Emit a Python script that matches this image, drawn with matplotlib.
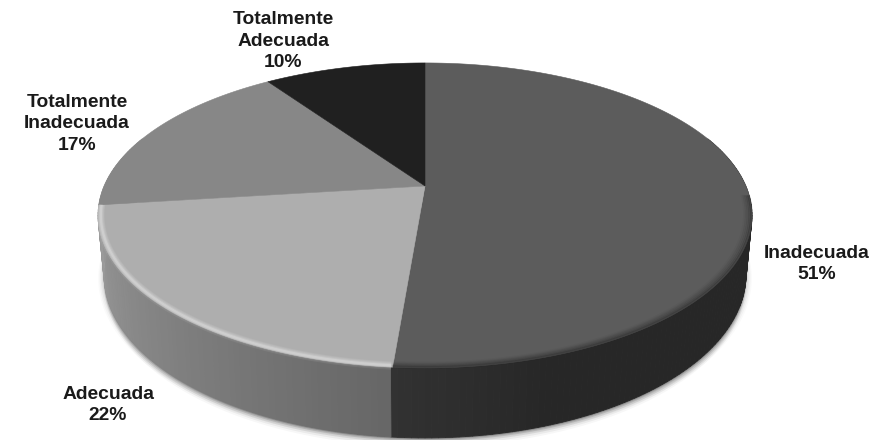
import numpy as np
import matplotlib
matplotlib.use("Agg")
import matplotlib.pyplot as plt
from matplotlib.collections import PolyCollection

plt.rcParams['font.family'] = ['Liberation Sans', 'DejaVu Sans']

# clockwise from 12 o'clock
categories = ['Inadecuada', 'Adecuada', 'Totalmente\nInadecuada', 'Totalmente\nAdecuada']
values = [51.3, 21.7, 17.4, 9.6]
shown = ['51%', '22%', '17%', '10%']
top_grey = ['#5c5c5c', '#aeaeae', '#878787', '#202020']

label_xy = [(817, 264), (108, 405), (77, 124), (283, 41)]

cx, cy = 425, 186
R, S, k, D = 320.8, 146.8, 0.193, 56.5


def project(theta, r=1.0):
    # circle seen in perspective, near side is bigger
    u = r * np.sin(theta)
    v = r * np.cos(theta)
    w = 1 + k * v
    return cx + R * u / w, cy - S * v / w


def project_low(theta):
    u = np.sin(theta)
    v = np.cos(theta)
    w = 1 + k * v
    return cx + 0.982 * R * u / w, cy - S * v / w + D / w


def lerp(a, b, t):
    return a + (b - a) * t


fig = plt.figure(figsize=(8.88, 4.40), dpi=100)
ax = fig.add_axes([0, 0, 1, 1])
ax.set_xlim(0, 888)
ax.set_ylim(440, 0)
ax.axis('off')

edges = np.cumsum([0] + values) / sum(values) * 2 * np.pi

# soft shadow under the body
t = np.linspace(np.pi * 0.42, np.pi * 1.58, 200)
lx, ly = project_low(t)
for off, alpha in [(9, 0.03), (7, 0.05), (5, 0.07), (3, 0.09), (1.5, 0.12)]:
    ax.fill(lx, ly + off, color='black', alpha=alpha, lw=0, zorder=1)
    ax.fill(cx + (lx - cx) * (1 + off / 500), ly + off * 0.5, color='black', alpha=alpha * 0.6, lw=0, zorder=1)

# outer wall, cut into thin strips for the shading
polys = []
cols = []
n = 360
ts = np.linspace(0, 2 * np.pi, n + 1)
for a, b in zip(ts[:-1], ts[1:]):
    x0, y0 = project(a)
    x1, y1 = project(b)
    x2, y2 = project_low(b)
    x3, y3 = project_low(a)
    if np.cos((a + b) / 2) > 0.35:
        continue
    mid = (a + b) / 2
    if mid < edges[1]:
        g = 0x27 if mid < np.pi * 0.9 else lerp(0x27, 0x32, (mid - np.pi * 0.9) / (edges[1] - np.pi * 0.9))
    elif mid < edges[2]:
        g = lerp(0x66, 0x9c, (mid - edges[1]) / (edges[2] - edges[1]))
    else:
        g = 0x96
    g = g / 255
    polys.append([(x0, y0), (x1, y1), (x2, y2), (x3, y3)])
    cols.append((g, g, g))
ax.add_collection(PolyCollection(polys, facecolors=cols, edgecolors=cols, linewidths=0.6, zorder=2))

# top face
for a, b, c in zip(edges[:-1], edges[1:], top_grey):
    t = np.linspace(a, b, 200)
    x, y = project(t)
    ax.fill(np.r_[cx, x], np.r_[cy, y], color=c, lw=0.4, ec=c, zorder=3)

# rim bevel: light on the pale slice, dark on the dark one
t = np.linspace(edges[1] + 0.004, edges[2], 200)
for r, lw, alpha in [(0.993, 6, 0.07), (0.992, 4.5, 0.1), (0.992, 3, 0.14), (0.992, 1.6, 0.2)]:
    x, y = project(t, r)
    ax.plot(x, y, color='white', lw=lw, alpha=alpha, zorder=4, solid_capstyle='butt')
t = np.linspace(np.pi * 0.52, edges[1], 200)
for r, lw, alpha in [(0.978, 2, 0.05), (0.983, 2, 0.1), (0.988, 2, 0.16), (0.993, 2, 0.25), (0.998, 2, 0.4)]:
    x, y = project(t, r)
    ax.plot(x, y, color='#272727', lw=lw, alpha=alpha, zorder=4, solid_capstyle='butt')

for name, val, (lx0, ly0) in zip(categories, shown, label_xy):
    ax.text(lx0, ly0, name + '\n' + val, ha='center', va='center', fontsize=13.9,
            fontweight='bold', color='#1a1a1a', linespacing=1.38, zorder=5)

fig.savefig('out.png', dpi=100)
